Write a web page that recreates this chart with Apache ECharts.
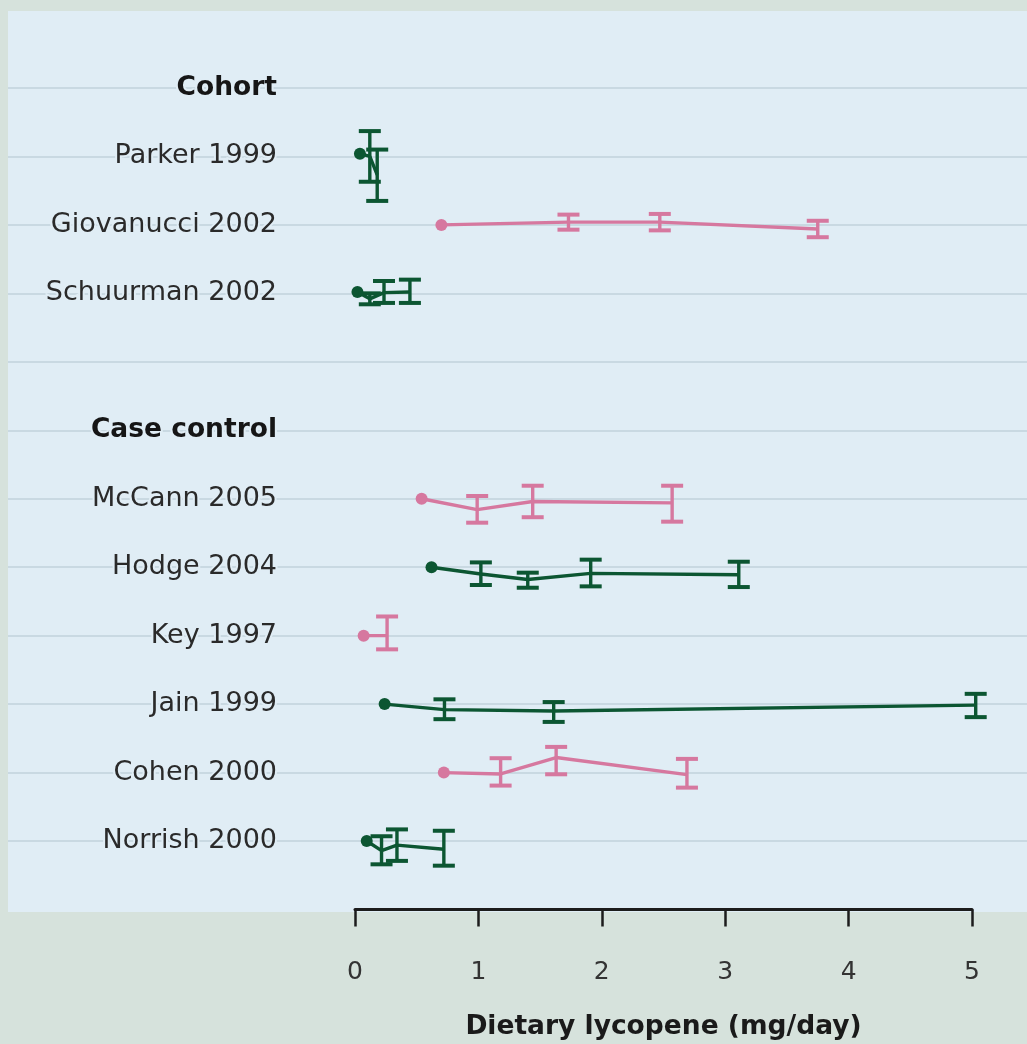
<!DOCTYPE html>
<html>
<head>
<meta charset="utf-8">
<script src="https://cdn.jsdelivr.net/npm/echarts@6/dist/echarts.min.js"></script>
<style>
  html, body { margin: 0; padding: 0; background: #d6e2dc; }
  #chart { width: 1027px; height: 1044px; }
</style>
</head>
<body>
<div id="chart"></div>
<script>
// Row labels, top to bottom ('' leaves a spacer row)
const rowLabels = [
  'Cohort', 'Parker 1999', 'Giovanucci 2002', 'Schuurman 2002', '',
  'Case control', 'McCann 2005', 'Hodge 2004', 'Key 1997', 'Jain 1999',
  'Cohen 2000', 'Norrish 2000'
];
const groupHeaders = ['Cohort', 'Case control'];

// Studies and their intake categories
const studyNames = [
  'Parker 1999', 'Giovanucci 2002', 'Schuurman 2002', 'McCann 2005',
  'Hodge 2004', 'Key 1997', 'Jain 1999', 'Cohen 2000', 'Norrish 2000'
];
// Dietary lycopene per intake category (mg/day)
const intakeMg = [
  [0.04, 0.12, 0.18],
  [0.70, 1.73, 2.47, 3.75],
  [0.02, 0.12, 0.235, 0.445],
  [0.54, 0.99, 1.44, 2.57],
  [0.62, 1.02, 1.40, 1.91, 3.11],
  [0.07, 0.26],
  [0.24, 0.725, 1.61, 5.03],
  [0.72, 1.18, 1.63, 2.69],
  [0.095, 0.215, 0.34, 0.72]
];
// Relative risk per category (lowest category is the reference)
const relRisk = [
  [1.04, 1.00, 0.73],
  [1.00, 1.04, 1.04, 0.94],
  [1.02, 0.92, 1.01, 1.02],
  [1.00, 0.84, 0.96, 0.94],
  [1.00, 0.90, 0.82, 0.91, 0.89],
  [1.00, 1.00],
  [1.00, 0.92, 0.90, 0.985],
  [1.00, 0.98, 1.22, 0.97],
  [1.00, 0.86, 0.94, 0.88]
];
// Confidence limits (null for the reference category)
const ciLow = [
  [null, 0.63, 0.35],
  [null, 0.93, 0.92, 0.82],
  [null, 0.84, 0.86, 0.86],
  [null, 0.65, 0.73, 0.665],
  [null, 0.74, 0.70, 0.72, 0.71],
  [null, 0.80],
  [null, 0.78, 0.74, 0.81],
  [null, 0.81, 0.975, 0.78],
  [null, 0.66, 0.71, 0.64]
];
const ciHigh = [
  [null, 1.37, 1.10],
  [null, 1.15, 1.16, 1.06],
  [null, 1.00, 1.18, 1.20],
  [null, 1.04, 1.19, 1.19],
  [null, 1.07, 0.92, 1.11, 1.08],
  [null, 1.28],
  [null, 1.07, 1.03, 1.15],
  [null, 1.21, 1.375, 1.20],
  [null, 1.07, 1.17, 1.15]
];
const xTickMin = 0;
const xTickMax = 5;
const xTickStep = 1;

// Styling
const GREEN = '#0c5632';
const PINK = '#d6789f';
const studyColor = {
  'Parker 1999': GREEN, 'Giovanucci 2002': PINK, 'Schuurman 2002': GREEN,
  'McCann 2005': PINK, 'Hodge 2004': GREEN, 'Key 1997': PINK,
  'Jain 1999': GREEN, 'Cohen 2000': PINK, 'Norrish 2000': GREEN
};
const PANEL = '#e0edf5';
const FONT = '"DejaVu Sans", "Noto Sans", sans-serif';
const rowCount = rowLabels.length + 1;           // includes empty top row
const rowOf = name => rowLabels.length - rowLabels.indexOf(name);
const rrPerRow = 1;                                // one row height per unit of RR
const rowY = (row, rr) => row + (rr - 1) / rrPerRow;

const gridTop = 19.5, gridBottom = 134.5;

const series = [];
studyNames.forEach((name, s) => {
  const row = rowOf(name);
  const color = studyColor[name];
  series.push({
    type: 'line',
    xAxisIndex: 1, yAxisIndex: 1,
    symbol: 'circle',
    symbolSize: 12,
    showAllSymbol: true,
    animation: false,
    lineStyle: { color, width: 3.4 },
    itemStyle: { color },
    z: 3,
    data: intakeMg[s].map((x, i) => ({
      value: [x, rowY(row, relRisk[s][i])],
      symbol: i === 0 ? 'circle' : 'none'
    }))
  });
  const bars = [];
  intakeMg[s].forEach((x, i) => {
    if (ciLow[s][i] != null) bars.push([x, rowY(row, ciLow[s][i]), rowY(row, ciHigh[s][i])]);
  });
  series.push({
    type: 'custom',
    xAxisIndex: 1, yAxisIndex: 1,
    animation: false,
    z: 4,
    encode: { x: 0, y: [1, 2] },
    data: bars,
    renderItem: (params, api) => {
      const x = api.value(0);
      const top = api.coord([x, api.value(2)]);
      const bot = api.coord([x, api.value(1)]);
      const half = 11;
      const stem = { stroke: color, lineWidth: 3.4 };
      const cap = { stroke: color, lineWidth: 4 };
      return {
        type: 'group',
        children: [
          { type: 'line', shape: { x1: top[0], y1: top[1], x2: bot[0], y2: bot[1] }, style: stem },
          { type: 'line', shape: { x1: top[0] - half, y1: top[1], x2: top[0] + half, y2: top[1] }, style: cap },
          { type: 'line', shape: { x1: bot[0] - half, y1: bot[1], x2: bot[0] + half, y2: bot[1] }, style: cap }
        ]
      };
    }
  });
});

const chart = echarts.init(document.getElementById('chart'), null, { renderer: 'canvas' });
chart.setOption({
  backgroundColor: '#d6e2dc',
  animation: false,
  graphic: [{
    type: 'rect', silent: true, z: -100,
    shape: { x: 8, y: 11, width: 1019, height: 901 },
    style: { fill: PANEL }
  }],
  grid: [
    { left: 8, right: 0, top: gridTop, bottom: gridBottom, outerBoundsMode: 'none' },
    { left: 355, right: 55, top: gridTop, bottom: gridBottom, outerBoundsMode: 'none' }
  ],
  xAxis: [
    { gridIndex: 0, type: 'value', min: 0, max: 1, show: false },
    {
      gridIndex: 1, type: 'value', min: xTickMin, max: xTickMax, interval: xTickStep,
      axisLine: { show: true, lineStyle: { color: '#1c1c1c', width: 3 } },
      axisTick: { show: true, length: 17, lineStyle: { color: '#1c1c1c', width: 2.5 } },
      axisLabel: { margin: 50, color: '#333', fontSize: 25, fontFamily: FONT },
      splitLine: { show: false },
      name: 'Dietary lycopene (mg/day)',
      nameLocation: 'middle',
      nameGap: 104,
      nameTextStyle: { color: '#1a1a1a', fontSize: 26.5, fontWeight: 'bold', fontFamily: FONT }
    }
  ],
  yAxis: [
    {
      gridIndex: 0, type: 'value', min: 0, max: rowCount, interval: 1,
      axisLine: { show: false }, axisTick: { show: false }, axisLabel: { show: false },
      splitLine: { show: true, showMinLine: false, showMaxLine: false,
        lineStyle: { color: '#c9d9e2', width: 2 } }
    },
    {
      gridIndex: 1, type: 'value', min: 0, max: rowCount, interval: 1,
      axisLine: { show: false }, axisTick: { show: false },
      splitLine: { show: false },
      axisLabel: {
        margin: 78,
        formatter: v => {
          const t = rowLabels[rowLabels.length - v];
          if (!t) return '';
          return groupHeaders.includes(t) ? '{h|' + t + '}' : '{n|' + t + '}';
        },
        rich: {
          n: { fontSize: 27, color: '#2a2a2a', fontFamily: FONT,
               textBorderColor: PANEL, textBorderWidth: 4 },
          h: { fontSize: 26.5, color: '#161616', fontWeight: 'bold', fontFamily: FONT,
               textBorderColor: PANEL, textBorderWidth: 4 }
        }
      }
    }
  ],
  series
});
</script>
</body>
</html>
